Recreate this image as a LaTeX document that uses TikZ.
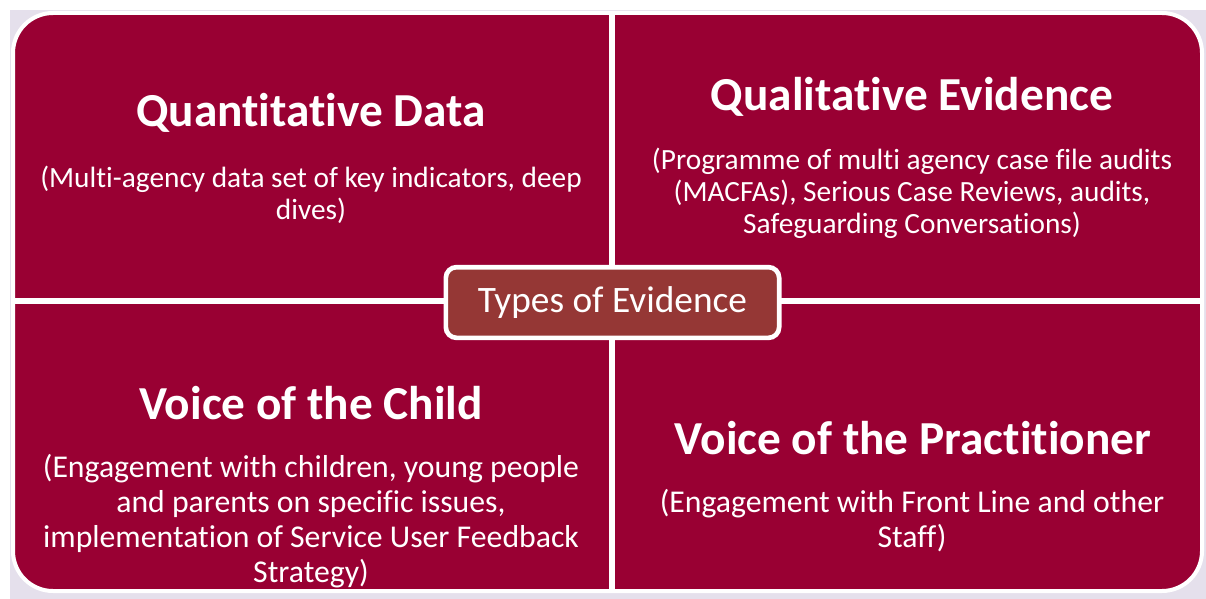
\documentclass[tikz,border=0pt]{standalone}
\usepackage{fontspec}
\setmainfont[Ligatures=NoCommon]{Carlito}
\definecolor{evidred}{RGB}{153,0,51}
\definecolor{evidbrown}{RGB}{149,55,53}
\definecolor{evidlav}{RGB}{229,224,236}
\begin{document}
\begin{tikzpicture}[x=0.75pt,y=-0.75pt,
    heading/.style={text=white,font=\fontsize{35.5}{40}\selectfont\bfseries},
    detail/.style={text=white,align=center,font=\fontsize{22}{24}\selectfont},
    bigdetail/.style={text=white,align=center,font=\fontsize{23.8}{26.3}\selectfont}]
    % Page and backdrop
    \useasboundingbox (0,0) rectangle (1206,599);
    \fill[evidlav] (10,10) rectangle (1206,599);

    % Quadrants: one rounded block, split by white gaps
    \draw[fill=evidred,draw=white,line width=3pt,rounded corners=30pt] (13,13) rectangle (1202,591);
    \draw[white,line width=4.5pt] (612,13) -- (612,591);
    \draw[white,line width=4.5pt] (13,301) -- (1202,301);

    % Top left
    \node (quanttitle) at (311,113) [heading] {Quantitative Data};
    \node (quanttext) at (311,195) [detail] {(Multi-agency data set of key indicators, deep\\dives)};

    % Top right
    \node (qualtitle) at (912,97) [heading] {Qualitative Evidence};
    \node (qualtext) at (912,193) [detail] {(Programme of multi agency case file audits\\(MACFAs), Serious Case Reviews, audits,\\Safeguarding Conversations)};

    % Bottom left
    \node (childtitle) at (311,403) [heading] {Voice of the Child};
    \node (childtext) at (311,521) [bigdetail] {(Engagement with children, young people\\and parents on specific issues,\\implementation of Service User Feedback\\Strategy)};

    % Bottom right
    \node (practtitle) at (913,438) [heading] {Voice of the Practitioner};
    \node (practtext) at (912,521) [bigdetail] {(Engagement with Front Line and other\\Staff)};

    % Centre label
    \node (types) at (612.5,302.5) [rectangle,rounded corners=8pt,fill=evidbrown,draw=white,line width=3.5pt,
        minimum width=250pt,minimum height=53pt,text=white,font=\fontsize{28}{32}\selectfont] {Types of Evidence};
\end{tikzpicture}
\end{document}
